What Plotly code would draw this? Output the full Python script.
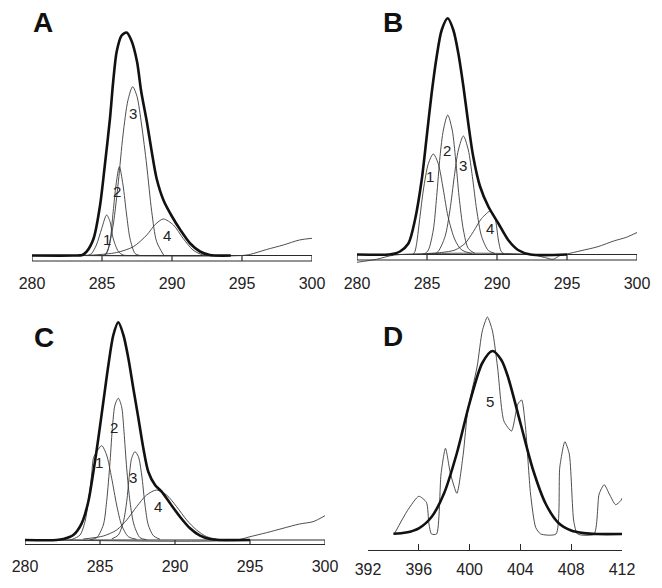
import plotly.graph_objects as go

# ---------------- Panel A (C1s) ----------------
A_env_x = [280, 283.0, 283.6, 283.9, 284.4, 284.86, 285.2, 285.57, 285.8, 286.05, 286.4, 286.76, 287.1, 287.5, 287.8, 288.2, 288.55, 288.9, 289.4, 290.0, 290.6, 291.3, 292.0, 292.7, 294.2]
A_env_y = [0, 0, 0.5, 3.8, 17, 50, 90, 137, 174, 204, 220, 223, 215, 194, 164, 134, 104, 77, 55, 39, 25.5, 12, 4, 0.5, 0]
A_c1_x = [284.0, 284.26, 284.6, 284.98, 285.33, 285.57, 285.8, 286.17, 286.5, 286.8]
A_c1_y = [0, 2, 10.5, 27, 40.5, 34, 17, 4, 0.5, 0]
A_c2_x = [285.1, 285.33, 285.57, 285.8, 286.0, 286.24, 286.5, 286.76, 287.0, 287.36, 287.7]
A_c2_y = [0, 2, 14, 44, 70.5, 88.8, 70.5, 40.5, 17, 2, 0]
A_c3_x = [285.2, 285.45, 285.8, 286.17, 286.5, 286.85, 287.19, 287.5, 287.83, 288.19, 288.55, 288.9, 289.4]
A_c3_y = [0, 7, 30.5, 74, 120.5, 155, 168.8, 159, 130.5, 90.5, 44, 14, 0.5]
A_c4_x = [283.0, 284.4, 286.05, 287.24, 288.2, 288.8, 289.38, 290.1, 290.8, 291.5, 292.2, 292.6]
A_c4_y = [0, 0.5, 3, 8.8, 20.5, 31, 36.5, 30.5, 17, 5.5, 0.5, 0]
A_bg_x = [283.0, 295.0, 295.6, 296.76, 297.95, 299.1, 300]
A_bg_y = [0, 0, 1.2, 6, 10.5, 15.5, 17.2]
A_lab_x = [285.38, 286.1, 287.24, 289.62]
A_lab_y = [16.5, 63.8, 142, 20.5]

# ---------------- Panel B (C1s) ----------------
B_env_x = [280, 282.3, 282.7, 283.07, 283.67, 284.14, 284.62, 284.98, 285.33, 285.69, 286.05, 286.48, 286.88, 287.24, 287.6, 287.95, 288.3, 288.79, 289.38, 290.1, 290.8, 291.5, 292.4, 295.0]
B_env_y = [0, 0, 1, 3, 11, 34.5, 74.5, 118, 161, 197.8, 224.5, 236.2, 224.5, 201, 168, 131, 98, 68, 48, 31, 14.5, 4.5, 0, 0]
B_c1_x = [284.0, 284.14, 284.26, 284.5, 284.74, 285.1, 285.45, 285.8, 286.17, 286.5, 287.0, 287.48, 288.2]
B_c1_y = [0, 3, 11, 38, 64.5, 91, 100.5, 91, 64.5, 38, 14.5, 4.5, 1]
B_c2_x = [284.5, 284.86, 285.1, 285.45, 285.69, 285.93, 286.17, 286.48, 286.8, 287.05, 287.29, 287.6, 287.95, 288.43]
B_c2_y = [0, 1, 4.5, 24.5, 58, 98, 124.5, 139.5, 124.5, 94.5, 58, 24.5, 6, 1]
B_c3_x = [285.5, 285.8, 286.29, 286.64, 286.95, 287.24, 287.6, 287.95, 288.24, 288.55, 288.9, 289.38, 289.86]
B_c3_y = [0, 3, 18, 44.5, 78, 104.5, 118.5, 104.5, 78, 44.5, 18, 4, 1]
B_c4_x = [285.0, 286.05, 287.0, 287.71, 288.31, 288.9, 289.55, 289.86, 290.1, 290.3, 290.6]
B_c4_y = [1, 2, 4.5, 11, 22.8, 36, 43.5, 36, 14.5, 3, 0]
B_bg_x = [280, 281.4, 282.7, 292.4, 293.4, 294.0, 294.5, 295.0, 296.0, 297.2, 298.4, 299.2, 300]
B_bg_y = [-7.8, -4.8, -0.5, 0, -3, -4.8, -1, 0.5, 3.8, 7.8, 13.8, 17, 22]
B_lab_x = [285.21, 286.4, 287.6, 289.5]
B_lab_y = [77.8, 104.5, 89.5, 26.2]

# ---------------- Panel C (C1s) ----------------
C_env_x = [280, 282.1, 282.56, 283.22, 283.78, 284.22, 284.56, 284.89, 285.22, 285.56, 285.89, 286.22, 286.56, 286.89, 287.22, 287.56, 287.89, 288.22, 288.67, 289.11, 289.67, 290.33, 291.0, 291.67, 292.33, 293.0, 295.0]
C_env_y = [0, 0, 1, 5, 16.7, 38.3, 68.3, 101.7, 138, 175, 205, 217.7, 205, 181.7, 151.7, 121.7, 91.7, 68.3, 55, 48.3, 36.7, 23.3, 11.7, 4.3, 1, 0, 0]
C_c1_x = [283.0, 283.2, 283.67, 284.0, 284.22, 284.44, 284.56, 284.78, 285.11, 285.44, 285.78, 286.11, 286.44, 286.89, 287.44]
C_c1_y = [0, 1, 5, 18.3, 38.3, 65, 81.7, 88.3, 94.3, 85, 61.7, 35, 15, 3.3, 0.7]
C_c2_x = [284.33, 284.78, 285.22, 285.44, 285.67, 285.84, 286.0, 286.22, 286.44, 286.6, 286.78, 287.0, 287.27, 287.67, 288.1]
C_c2_y = [0.3, 2.3, 15, 38.3, 78.3, 115, 135, 141.7, 133.3, 108.3, 71.7, 38.3, 15, 2.3, 0.3]
C_c3_x = [285.78, 286.22, 286.56, 286.78, 286.96, 287.11, 287.33, 287.56, 287.78, 288.0, 288.22, 288.56, 289.0]
C_c3_y = [1, 5, 18.3, 38.3, 65, 81.7, 88.3, 83.3, 65, 35, 15, 4.3, 0.7]
C_c4_x = [283.89, 285.22, 286.11, 286.78, 287.44, 288.11, 288.78, 289.44, 290.11, 290.78, 291.44, 292.11, 292.78]
C_c4_y = [1, 4, 10, 20, 33.3, 45, 50, 45, 33.3, 20, 10, 3.3, 0.7]
C_bg_x = [282.0, 294.1, 295.0, 296.1, 297.2, 298.3, 299.2, 300]
C_bg_y = [0, 0, 3.3, 7.3, 11.7, 16, 18.3, 24.3]
C_lab_x = [284.95, 285.95, 287.22, 288.89]
C_lab_y = [77.7, 112.7, 62.7, 33.3]

# ---------------- Panel D (N1s) ----------------
D_raw_x = [394.07, 395.1, 396.0, 396.6, 396.8, 397.0, 397.4, 397.75, 398.1, 398.5, 399.0, 399.5, 399.85, 400.6, 401.0, 401.4, 401.8, 402.2, 402.7, 403.3, 403.8, 404.1, 404.4, 404.8, 405.2, 405.6, 406.8, 407.1, 407.5, 407.85, 408.2, 408.5, 409.8, 410.2, 410.6, 411.0, 411.5, 411.9, 412.2]
D_raw_y = [0, 23.3, 37.7, 31.7, 10, 0, 0, 60, 85.7, 60, 40.7, 80, 123, 168, 203, 217, 203, 167, 113, 103, 130, 134, 107, 40, 6.7, 0, 0, 66.7, 92.3, 80, 13, 0, 0, 40, 49.3, 40, 29.3, 33.3, 41]
D_fit_x = [394.0, 395, 396, 397, 398, 399, 400, 401, 401.8, 402.5, 403, 404, 405, 406, 407, 408, 409, 410, 412.2]
D_fit_y = [0.3, 1.5, 5.7, 17, 41, 81, 131, 171, 183, 174, 158, 111, 64, 30, 11, 3.5, 0.9, 0, 0]
D_lab_x = [401.63]
D_lab_y = [132.7]

C1S_TICKS = [280, 285, 290, 295, 300]
N1S_TICKS = [392, 396, 400, 404, 408, 412]
COMP_LABELS = ["1", "2", "3", "4"]
PANEL_LETTERS = ["A", "B", "C", "D"]

# the page body adds an 8 px margin, so the figure is 8 px smaller and shifted
OFF = 8
W, H = 662 - OFF, 588 - OFF
FONT = "Liberation Sans, Arial, sans-serif"
THICK = dict(color="#111111", width=2.6, shape="spline", smoothing=0.8)
THIN = dict(color="#3a3a3a", width=0.9, shape="spline", smoothing=0.8)


def px_x(p):
    return (p - OFF) / W


def px_y(p):
    return 1 - (p - OFF) / H


fig = go.Figure()

panels = [
    ("x", "y", A_env_x, A_env_y, [(A_c1_x, A_c1_y), (A_c2_x, A_c2_y), (A_c3_x, A_c3_y), (A_c4_x, A_c4_y)], (A_bg_x, A_bg_y), (A_lab_x, A_lab_y)),
    ("x2", "y2", B_env_x, B_env_y, [(B_c1_x, B_c1_y), (B_c2_x, B_c2_y), (B_c3_x, B_c3_y), (B_c4_x, B_c4_y)], (B_bg_x, B_bg_y), (B_lab_x, B_lab_y)),
    ("x3", "y3", C_env_x, C_env_y, [(C_c1_x, C_c1_y), (C_c2_x, C_c2_y), (C_c3_x, C_c3_y), (C_c4_x, C_c4_y)], (C_bg_x, C_bg_y), (C_lab_x, C_lab_y)),
]

for xa, ya, ex, ey, comps, bg, labs in panels:
    fig.add_trace(go.Scatter(x=bg[0], y=bg[1], mode="lines", line=THIN, xaxis=xa, yaxis=ya, hoverinfo="skip"))
    for cx, cy in comps:
        fig.add_trace(go.Scatter(x=cx, y=cy, mode="lines", line=THIN, xaxis=xa, yaxis=ya, hoverinfo="skip"))
    fig.add_trace(go.Scatter(x=ex, y=ey, mode="lines", line=THICK, xaxis=xa, yaxis=ya, hoverinfo="skip"))
    for t, lx, ly in zip(COMP_LABELS, labs[0], labs[1]):
        fig.add_annotation(x=lx, y=ly, xref=xa, yref=ya, text=t, showarrow=False,
                           font=dict(family=FONT, size=15, color="#222222"))

fig.add_trace(go.Scatter(x=D_raw_x, y=D_raw_y, mode="lines", line=dict(color="#3a3a3a", width=0.9, shape="spline", smoothing=0.6),
                         xaxis="x4", yaxis="y4", hoverinfo="skip"))
fig.add_trace(go.Scatter(x=D_fit_x, y=D_fit_y, mode="lines", line=THICK, xaxis="x4", yaxis="y4", hoverinfo="skip"))
fig.add_annotation(x=D_lab_x[0], y=D_lab_y[0], xref="x4", yref="y4", text="5", showarrow=False,
                   font=dict(family=FONT, size=15, color="#222222"))

# bar-style energy axes for A, B, C
bars = [("x", "y", -5.5), ("x2", "y2", -5.5), ("x3", "y3", -4.5)]
shapes = []
for xa, ya, depth in bars:
    shapes.append(dict(type="rect", xref=xa, yref=ya, x0=C1S_TICKS[0], x1=C1S_TICKS[-1], y0=depth, y1=0,
                       line=dict(color="#2a2a2a", width=1.2), fillcolor="rgba(0,0,0,0)", layer="below"))
    for tv in C1S_TICKS[1:-1]:
        shapes.append(dict(type="line", xref=xa, yref=ya, x0=tv, x1=tv, y0=depth, y1=0,
                           line=dict(color="#2a2a2a", width=1.2), layer="below"))

tickfont = dict(family=FONT, size=16, color="#222222")
common_x = dict(showgrid=False, zeroline=False, ticks="", showline=False, tickfont=tickfont,
                fixedrange=True, automargin=False)
common_y = dict(visible=False, showgrid=False, zeroline=False, fixedrange=True, automargin=False)

fig.update_layout(
    template="none",
    width=W, height=H,
    margin=dict(l=0, r=0, t=0, b=0, pad=0, autoexpand=False),
    paper_bgcolor="white", plot_bgcolor="rgba(0,0,0,0)",
    showlegend=False,
    shapes=shapes,
    xaxis=dict(domain=[px_x(32), px_x(312)], range=[280, 300], tickvals=C1S_TICKS, anchor="y",
               ticklabelstandoff=8, **common_x),
    yaxis=dict(domain=[px_y(264), px_y(10)], range=[-8.5, 245.5], anchor="x", **common_y),
    xaxis2=dict(domain=[px_x(357), px_x(637)], range=[280, 300], tickvals=C1S_TICKS, anchor="y2",
                ticklabelstandoff=8, **common_x),
    yaxis2=dict(domain=[px_y(264), px_y(10)], range=[-9.5, 244.5], anchor="x2", **common_y),
    xaxis3=dict(domain=[px_x(25), px_x(325)], range=[280, 300], tickvals=C1S_TICKS, anchor="y3",
                ticklabelstandoff=7, **common_x),
    yaxis3=dict(domain=[px_y(548), px_y(310)], range=[-8, 230], anchor="x3", **common_y),
    xaxis4=dict(domain=[px_x(368), px_x(622)], range=[392, 412], tickvals=N1S_TICKS, anchor="y4",
                showgrid=False, zeroline=False, showline=True, linecolor="#2a2a2a", linewidth=1.2,
                ticks="inside", ticklen=6, tickwidth=1.2, tickcolor="#2a2a2a", tickfont=tickfont,
                ticklabelstandoff=5, fixedrange=True, automargin=False),
    yaxis4=dict(domain=[px_y(550), px_y(300)], range=[-16, 234], anchor="x4", **common_y),
)

letter_pos = [(43, 23), (393, 22), (44, 337), (393, 336)]
for letter, (lx, ly) in zip(PANEL_LETTERS, letter_pos):
    fig.add_annotation(x=px_x(lx), y=px_y(ly), xref="paper", yref="paper", text="<b>%s</b>" % letter,
                       showarrow=False, xanchor="center", yanchor="middle",
                       font=dict(family=FONT, size=28, color="#111111"))

fig.write_html("out.html")
